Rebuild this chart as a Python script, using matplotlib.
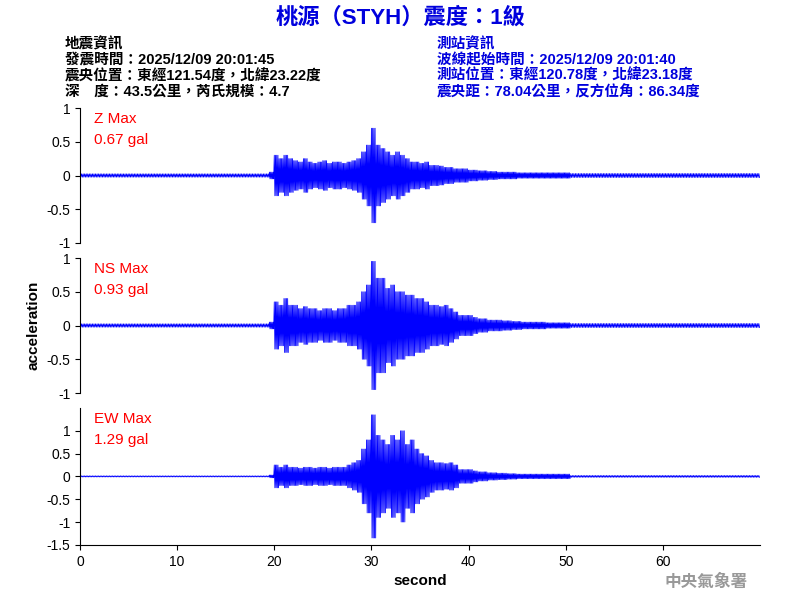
import matplotlib
matplotlib.use("Agg")
import matplotlib.pyplot as plt
import numpy as np

plt.rcParams['font.family'] = ['Liberation Sans', 'Noto Sans CJK TC', 'DejaVu Sans']

# envelope amplitudes, every 0.5 s from 19.5 s to 50 s
z_amp = [0.05, 0.3, 0.25, 0.3, 0.25, 0.22, 0.2, 0.25, 0.2, 0.18, 0.2, 0.22, 0.18, 0.2, 0.2, 0.18,
         0.2, 0.22, 0.25, 0.35, 0.45, 0.7, 0.45, 0.4, 0.35, 0.3, 0.35, 0.3, 0.25, 0.2, 0.2, 0.18,
         0.2, 0.15, 0.15, 0.14, 0.12, 0.12, 0.1, 0.1, 0.1, 0.08, 0.08, 0.07, 0.07, 0.06, 0.06, 0.05,
         0.05, 0.05, 0.05, 0.04, 0.04, 0.04, 0.04, 0.04, 0.04, 0.04, 0.04, 0.04, 0.04, 0.04]
ns_amp = [0.05, 0.35, 0.3, 0.4, 0.3, 0.3, 0.25, 0.28, 0.25, 0.25, 0.22, 0.25, 0.25, 0.22, 0.25, 0.25,
          0.3, 0.3, 0.35, 0.5, 0.6, 0.95, 0.7, 0.7, 0.55, 0.6, 0.5, 0.5, 0.45, 0.45, 0.4, 0.4,
          0.35, 0.3, 0.3, 0.28, 0.3, 0.25, 0.2, 0.15, 0.15, 0.15, 0.12, 0.1, 0.1, 0.08, 0.08, 0.08,
          0.07, 0.07, 0.06, 0.06, 0.05, 0.05, 0.05, 0.05, 0.05, 0.04, 0.04, 0.04, 0.04, 0.04]
ew_amp = [0.03, 0.25, 0.2, 0.25, 0.2, 0.2, 0.18, 0.2, 0.2, 0.18, 0.2, 0.2, 0.18, 0.2, 0.2, 0.2,
          0.25, 0.3, 0.35, 0.6, 0.8, 1.35, 0.9, 0.8, 0.7, 0.9, 0.8, 1.0, 0.7, 0.8, 0.6, 0.5,
          0.45, 0.35, 0.3, 0.3, 0.28, 0.3, 0.25, 0.15, 0.15, 0.15, 0.12, 0.1, 0.1, 0.08, 0.08, 0.07,
          0.07, 0.06, 0.06, 0.05, 0.05, 0.05, 0.05, 0.05, 0.05, 0.05, 0.05, 0.05, 0.05, 0.05]
noise_pre = [0.025, 0.025, 0.012]
noise_post = [0.03, 0.03, 0.02]
names = ["Z Max\n0.67 gal", "NS Max\n0.93 gal", "EW Max\n1.29 gal"]
ylims = [(-1, 1), (-1, 1), (-1.5, 1.5)]
yticks = [[-1, -0.5, 0, 0.5, 1], [-1, -0.5, 0, 0.5, 1], [-1.5, -1, -0.5, 0, 0.5, 1]]

fig = plt.figure(figsize=(8, 6), dpi=100)
bottoms = [0.595, 0.345, 0.092]
heights = [0.225, 0.225, 0.228]
for i, amp in enumerate([z_amp, ns_amp, ew_amp]):
    ax = fig.add_axes([0.1, bottoms[i], 0.85, heights[i]])
    t_pre = np.arange(0, 19.5, 0.08)
    t_ev = np.arange(19.5, 19.5 + 0.5 * len(amp), 0.0625)
    a_ev = np.repeat(amp, 8)[:len(t_ev)]
    t_post = np.arange(t_ev[-1] + 0.08, 70, 0.08)
    t = np.concatenate([t_pre, t_ev, t_post])
    a = np.concatenate([np.full(len(t_pre), noise_pre[i]), a_ev, np.full(len(t_post), noise_post[i])])
    sign = np.resize([1, -1], len(t))
    ax.plot(t, a * sign, color='blue', lw=0.6)
    ax.set_xlim(0, 70)
    ax.set_ylim(*ylims[i])
    ax.set_yticks(yticks[i])
    ax.set_yticklabels([f"{v:g}" for v in yticks[i]], fontsize=10)
    for s in ['top', 'right']:
        ax.spines[s].set_visible(False)
    if i < 2:
        ax.spines['bottom'].set_visible(False)
        ax.set_xticks([])
    else:
        ax.set_xticks([0, 10, 20, 30, 40, 50, 60])
        ax.tick_params(labelsize=10)
        ax.set_xlabel("second", fontsize=11, fontweight='bold')
    if i == 1:
        ax.set_ylabel("acceleration", fontsize=11, fontweight='bold')
    ax.text(0.02, 0.97, names[i], transform=ax.transAxes, color='red', fontsize=11,
            va='top', linespacing=1.6)

fig.text(0.5, 0.97, "桃源（STYH）震度：1級", color='#0000dd', fontsize=16,
         fontweight='bold', ha='center', va='center')
left = ["地震資訊", "發震時間：2025/12/09 20:01:45", "震央位置：東經121.54度，北緯23.22度",
        "深　度：43.5公里，芮氏規模：4.7"]
right = ["測站資訊", "波線起始時間：2025/12/09 20:01:40", "測站位置：東經120.78度，北緯23.18度",
         "震央距：78.04公里，反方位角：86.34度"]
for k in range(4):
    y = 1 - (44 + 16 * k) / 600
    fig.text(0.081, y, left[k], fontsize=10.5, fontweight='bold', va='center')
    fig.text(0.546, y, right[k], fontsize=10.5, fontweight='bold', va='center', color='#0000dd')
fig.text(0.935, 0.03, "中央氣象署", color='#999999', fontsize=12, fontweight='bold',
         ha='right', va='center')
fig.savefig("out.png")
